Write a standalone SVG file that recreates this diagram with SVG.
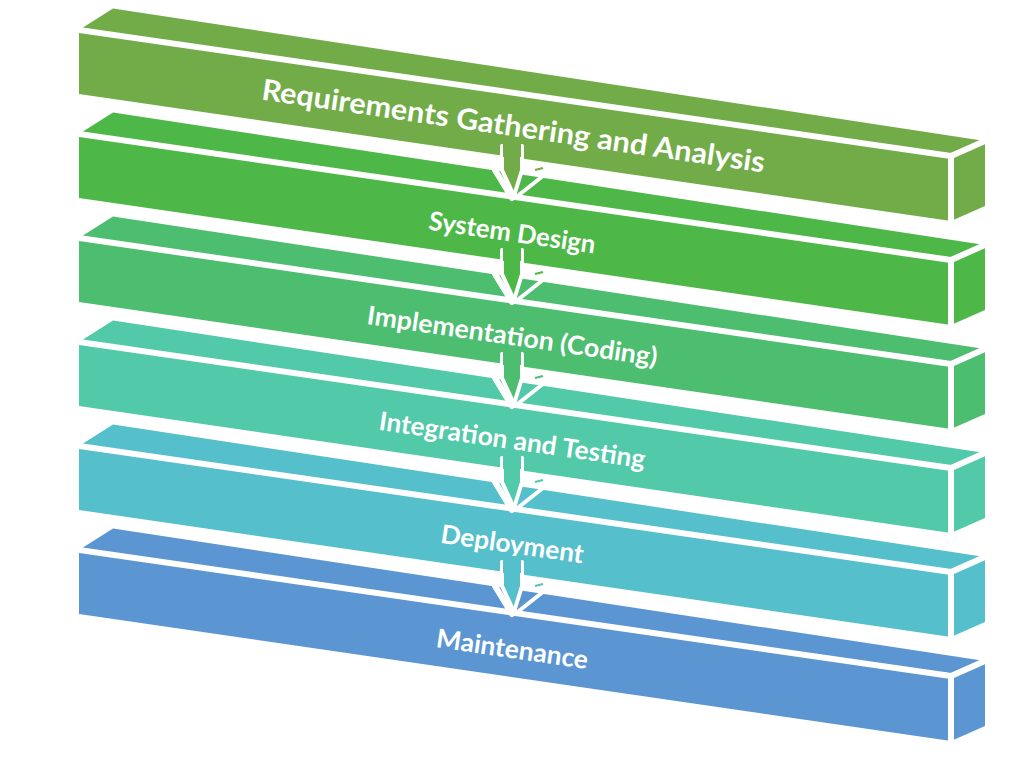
<svg xmlns="http://www.w3.org/2000/svg" xmlns:xlink="http://www.w3.org/1999/xlink" width="1024" height="757" viewBox="0 0 1024 757">
<style>
.lbl{font-family:Lato,"Liberation Sans",sans-serif;font-weight:bold;fill:#fff;text-anchor:middle}
.gap{stroke:#fff;stroke-width:6;stroke-linecap:square;fill:none}
.aw{stroke:#fff;stroke-width:4;stroke-linejoin:round;stroke-linecap:round}
</style>
<defs>
<g id="box">
<polygon points="79,30 951,156 985,141 113,8.5" fill="currentColor"/>
<polygon points="79,30 951,156 951,221 79,94" fill="currentColor"/>
<polygon points="951,156 985,141 985,206 951,221" fill="currentColor"/>
<path class="gap" d="M79,30 L951,156 M951,156 L951,221 M951,156 L985,141"/>
</g>
<g id="arrow">
<path d="M495,170 L512,198" fill="none" stroke="#fff" stroke-width="6" stroke-linecap="round"/>
<polygon points="502,146 522,146 522,170 514,196 502,170" fill="currentColor" class="aw"/>
<polygon points="503,140 521,140 521,157 503,157" fill="currentColor"/>
<path d="M522,163 L553,167 M553,168 L515,198" fill="none" stroke="#fff" stroke-width="4" stroke-linecap="round"/>
<path d="M535,170 L543,168" stroke="currentColor" stroke-width="2"/>
</g>
</defs>
<g id="n1" color="#72AC48"><use xlink:href="#box"/><text class="lbl" x="512" y="136" font-size="29" textLength="508" lengthAdjust="spacingAndGlyphs" transform="rotate(8.25 512 136)">Requirements Gathering and Analysis</text></g>
<g id="n2" color="#4DB848"><use xlink:href="#box" transform="translate(0,104)"/><text class="lbl" x="511" y="241.5" font-size="26" textLength="168" lengthAdjust="spacingAndGlyphs" transform="rotate(8.25 511 241.5)">System Design</text></g>
<g id="n3" color="#4DBD70"><use xlink:href="#box" transform="translate(0,208)"/><text class="lbl" x="511" y="345" font-size="26" textLength="293" lengthAdjust="spacingAndGlyphs" transform="rotate(8.25 511 345)">Implementation (Coding)</text></g>
<g id="n4" color="#52C9A8"><use xlink:href="#box" transform="translate(0,312)"/><text class="lbl" x="511" y="449" font-size="26" textLength="269" lengthAdjust="spacingAndGlyphs" transform="rotate(8.25 511 449)">Integration and Testing</text></g>
<g id="n5" color="#55C0CB"><use xlink:href="#box" transform="translate(0,416)"/><text class="lbl" x="511" y="553" font-size="26" textLength="144" lengthAdjust="spacingAndGlyphs" transform="rotate(8.25 511 553)">Deployment</text></g>
<g id="n6" color="#5B96D2"><use xlink:href="#box" transform="translate(0,520)"/><text class="lbl" x="511" y="658" font-size="26" textLength="153" lengthAdjust="spacingAndGlyphs" transform="rotate(8.25 511 658)">Maintenance</text></g>
<g id="connectors">
<use xlink:href="#arrow" color="#72AC48"/>
<use xlink:href="#arrow" color="#4DB848" transform="translate(0,104)"/>
<use xlink:href="#arrow" color="#4DBD70" transform="translate(0,208)"/>
<use xlink:href="#arrow" color="#52C9A8" transform="translate(0,312)"/>
<use xlink:href="#arrow" color="#55C0CB" transform="translate(0,416)"/>
</g>
</svg>
